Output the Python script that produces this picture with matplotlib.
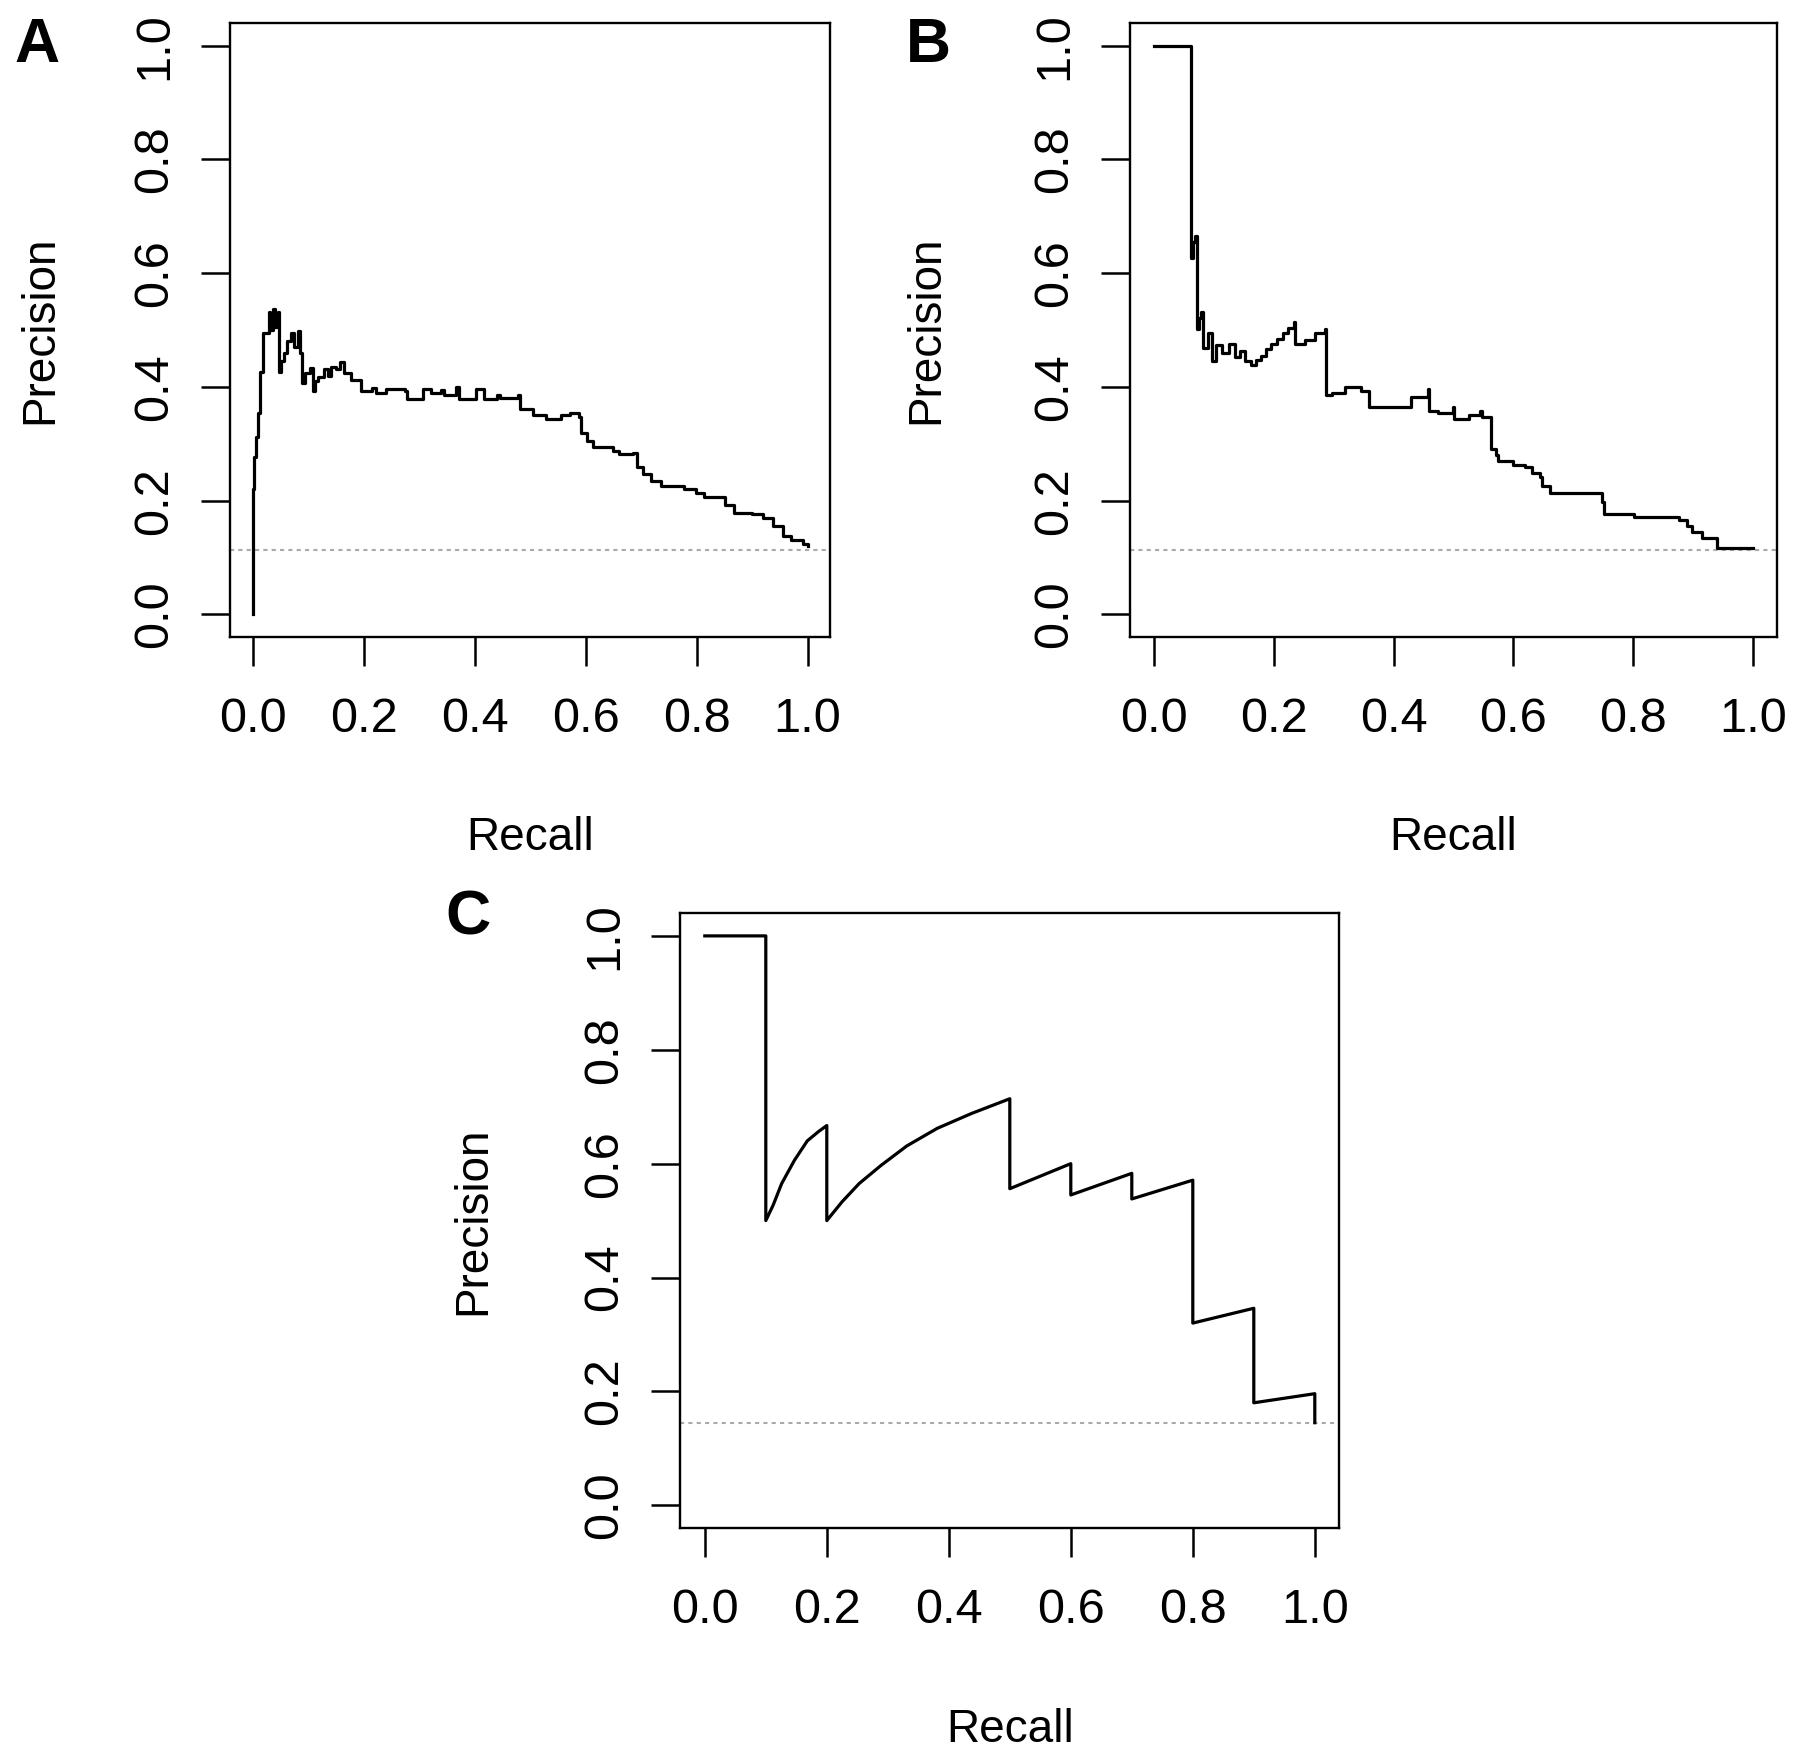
import matplotlib
matplotlib.use('Agg')
import matplotlib.pyplot as plt

plt.rcParams['font.family'] = ['Liberation Sans', 'DejaVu Sans']

# values
tick_values = [0.0, 0.2, 0.4, 0.6, 0.8, 1.0]
tick_labels = ['0.0', '0.2', '0.4', '0.6', '0.8', '1.0']

a_recall = [0.0, 0.0, 0.0, 0.003, 0.006, 0.009, 0.014, 0.019, 0.029, 0.032,
            0.036, 0.040, 0.046, 0.048, 0.052, 0.057, 0.062, 0.070, 0.075, 0.082,
            0.086, 0.089, 0.095, 0.103, 0.108, 0.112, 0.118, 0.128, 0.135, 0.142,
            0.150, 0.157, 0.165, 0.178, 0.196, 0.215, 0.222, 0.240, 0.275, 0.278,
            0.307, 0.321, 0.340, 0.345, 0.367, 0.371, 0.403, 0.417, 0.440, 0.445,
            0.478, 0.481, 0.506, 0.528, 0.556, 0.571, 0.588, 0.592, 0.603, 0.613,
            0.649, 0.660, 0.685, 0.692, 0.703, 0.717, 0.735, 0.777, 0.799, 0.813,
            0.849, 0.852, 0.867, 0.899, 0.920, 0.938, 0.956, 0.970, 0.991, 1.0]
a_precision = [0.0, 0.200, 0.221, 0.277, 0.312, 0.354, 0.427, 0.494, 0.532, 0.500,
               0.537, 0.505, 0.532, 0.427, 0.445, 0.459, 0.480, 0.494, 0.470, 0.499,
               0.459, 0.406, 0.425, 0.434, 0.392, 0.410, 0.417, 0.431, 0.420, 0.435,
               0.431, 0.443, 0.425, 0.413, 0.392, 0.398, 0.390, 0.397, 0.392, 0.378,
               0.397, 0.389, 0.395, 0.385, 0.399, 0.378, 0.396, 0.378, 0.386, 0.380,
               0.385, 0.361, 0.351, 0.344, 0.351, 0.354, 0.347, 0.319, 0.305, 0.295,
               0.288, 0.282, 0.284, 0.260, 0.246, 0.235, 0.225, 0.221, 0.214, 0.207,
               0.207, 0.193, 0.179, 0.176, 0.169, 0.155, 0.138, 0.131, 0.124, 0.120]
a_baseline = 0.114

b_recall = [0.0, 0.061, 0.065, 0.068, 0.071, 0.075, 0.078, 0.082, 0.089, 0.096,
            0.103, 0.113, 0.124, 0.134, 0.144, 0.151, 0.162, 0.170, 0.178, 0.186,
            0.195, 0.205, 0.215, 0.224, 0.233, 0.235, 0.252, 0.269, 0.285, 0.287,
            0.297, 0.318, 0.346, 0.358, 0.388, 0.429, 0.457, 0.459, 0.474, 0.499,
            0.501, 0.526, 0.544, 0.547, 0.561, 0.562, 0.571, 0.575, 0.599, 0.620,
            0.631, 0.644, 0.648, 0.662, 0.735, 0.749, 0.752, 0.790, 0.801, 0.853,
            0.877, 0.891, 0.898, 0.915, 0.940, 0.941, 1.0]
b_precision = [1.0, 0.626, 0.654, 0.665, 0.501, 0.522, 0.532, 0.469, 0.494, 0.445,
               0.473, 0.459, 0.476, 0.452, 0.463, 0.445, 0.438, 0.447, 0.455, 0.466,
               0.475, 0.485, 0.495, 0.504, 0.515, 0.476, 0.483, 0.494, 0.501, 0.385,
               0.389, 0.399, 0.392, 0.365, 0.365, 0.382, 0.396, 0.358, 0.354, 0.365,
               0.344, 0.351, 0.358, 0.347, 0.347, 0.291, 0.281, 0.270, 0.263, 0.260,
               0.249, 0.242, 0.225, 0.214, 0.214, 0.197, 0.176, 0.176, 0.172, 0.172,
               0.166, 0.155, 0.145, 0.134, 0.134, 0.117, 0.117]
b_baseline = 0.114

c_recall = [0.0, 0.1, 0.1, 0.112, 0.126, 0.147, 0.168, 0.186, 0.2, 0.2,
            0.225, 0.253, 0.289, 0.331, 0.381, 0.437, 0.5, 0.5, 0.6, 0.6,
            0.7, 0.7, 0.8, 0.8, 0.9, 0.9, 1.0, 1.0]
c_precision = [1.0, 1.0, 0.5, 0.527, 0.565, 0.606, 0.640, 0.656, 0.667, 0.5,
               0.533, 0.565, 0.597, 0.631, 0.662, 0.688, 0.714, 0.556, 0.6, 0.545,
               0.583, 0.538, 0.571, 0.32, 0.346, 0.18, 0.196, 0.145]
c_baseline = 0.145


def style_axis(ax, baseline, ylab_x):
    ax.set_xlim(-0.04, 1.04)
    ax.set_ylim(-0.04, 1.04)
    ax.axhline(baseline, color='#aaaaaa', lw=1.5, ls=(0, (2, 2)), zorder=1)
    ax.set_xticks(tick_values)
    ax.set_xticklabels(tick_labels)
    ax.set_yticks(tick_values)
    ax.set_yticklabels(tick_labels, rotation=90, va='center')
    ax.tick_params(direction='out', length=21, width=1.8, labelsize=35)
    ax.tick_params(axis='x', pad=22)
    ax.tick_params(axis='y', pad=17)
    for s in ax.spines.values():
        s.set_linewidth(1.7)
    ax.set_xlabel('Recall', fontsize=33)
    ax.set_ylabel('Precision', fontsize=33)
    ax.xaxis.set_label_coords(0.5, -0.292)
    ax.yaxis.set_label_coords(ylab_x, 0.5)
    ax.yaxis.label.set_verticalalignment('center')


fig = plt.figure(figsize=(18, 17.57), dpi=100)

ax_a = fig.add_axes([0.128, 0.6374, 0.333, 0.3495])
ax_a.plot(a_recall, a_precision, color='black', lw=2.3, drawstyle='steps-post')
style_axis(ax_a, a_baseline, -0.318)

ax_b = fig.add_axes([0.628, 0.6374, 0.359, 0.3495])
ax_b.plot(b_recall, b_precision, color='black', lw=2.3, drawstyle='steps-post')
style_axis(ax_b, b_baseline, -0.316)

ax_c = fig.add_axes([0.378, 0.1303, 0.366, 0.350])
ax_c.plot(c_recall, c_precision, color='black', lw=2.3)
style_axis(ax_c, c_baseline, -0.314)

fig.text(37 / 1800, 1 - 46 / 1757, 'A', fontsize=45, fontweight='bold', ha='center', va='center')
fig.text(928 / 1800, 1 - 46 / 1757, 'B', fontsize=45, fontweight='bold', ha='center', va='center')
fig.text(468 / 1800, 1 - 918 / 1757, 'C', fontsize=45, fontweight='bold', ha='center', va='center')

fig.savefig('out.png', dpi=100)
